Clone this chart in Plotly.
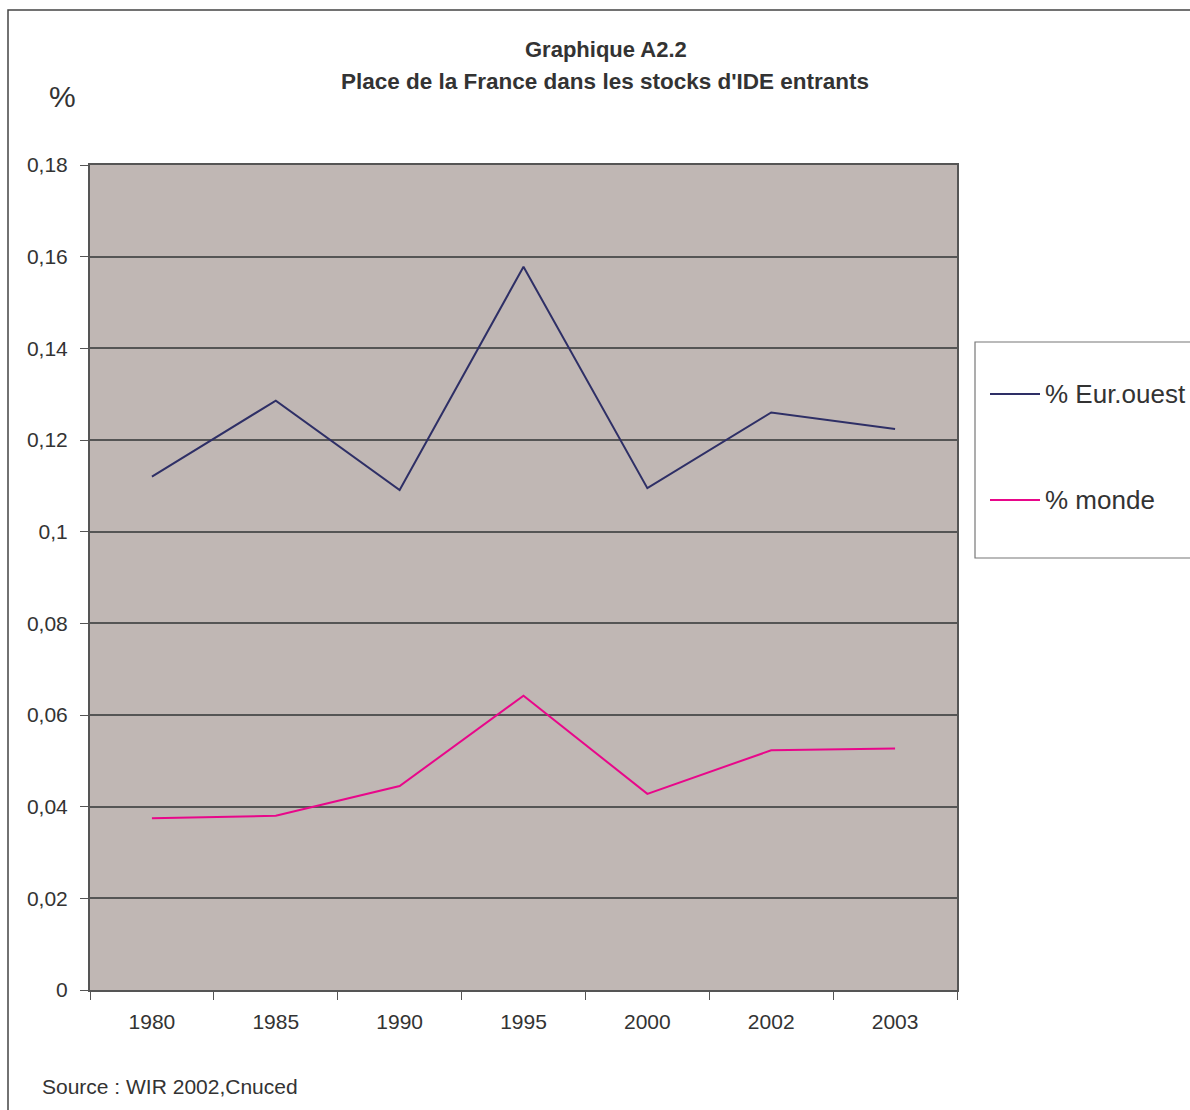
import plotly.graph_objects as go

# Data
annees = ["1980", "1985", "1990", "1995", "2000", "2002", "2003"]
eur_ouest = [0.1120, 0.1286, 0.1091, 0.1578, 0.1095, 0.1260, 0.1224]
monde = [0.0375, 0.0380, 0.0445, 0.0642, 0.0428, 0.0523, 0.0527]
y_ticks = [0, 0.02, 0.04, 0.06, 0.08, 0.10, 0.12, 0.14, 0.16, 0.18]
y_tick_labels = ["0", "0,02", "0,04", "0,06", "0,08", "0,1", "0,12", "0,14", "0,16", "0,18"]

series = [
    ("% Eur.ouest", eur_ouest, "#2e2f66"),
    ("% monde", monde, "#e8078a"),
]

FONT = "Liberation Sans, Arial, sans-serif"
TXT = "#333333"

W, H = 1190, 1110
L, R, T, B = 90, 957, 165, 990  # plot area in pixels


def px(x):
    return (x - L) / (R - L)


def py(y):
    return (B - y) / (B - T)


fig = go.Figure()
for name, vals, color in series:
    fig.add_trace(go.Scatter(x=annees, y=vals, mode="lines", name=name,
                             line=dict(color=color, width=2), showlegend=False))

shapes = [
    # outer frame of the chart
    dict(type="rect", xref="paper", yref="paper", x0=px(8), x1=px(1200), y0=py(1120), y1=py(10),
         line=dict(color="#444444", width=1.5), fillcolor="rgba(0,0,0,0)", layer="below"),
    # legend box
    dict(type="rect", xref="paper", yref="paper", x0=px(975), x1=px(1200), y0=py(558), y1=py(342),
         line=dict(color="#777777", width=1.2), fillcolor="rgba(0,0,0,0)"),
]

annotations = [
    dict(text="<b>Graphique A2.2</b>", xref="paper", yref="paper", x=px(606), y=py(50),
         showarrow=False, font=dict(family=FONT, size=22, color=TXT), xanchor="center", yanchor="middle"),
    dict(text="<b>Place de la France dans les stocks d'IDE entrants</b>", xref="paper", yref="paper",
         x=px(605), y=py(81), showarrow=False, font=dict(family=FONT, size=22.5, color=TXT),
         xanchor="center", yanchor="middle"),
    dict(text="%", xref="paper", yref="paper", x=px(62), y=py(97), showarrow=False,
         font=dict(family=FONT, size=30, color=TXT), xanchor="center", yanchor="middle"),
    dict(text="Source : WIR 2002,Cnuced", xref="paper", yref="paper", x=px(40), y=py(1086),
         showarrow=False, font=dict(family=FONT, size=21, color=TXT), xanchor="left", yanchor="middle"),
]

# legend entries: sample line + label
for i, (name, _, color) in enumerate(series):
    ly = 394 + i * 106
    shapes.append(dict(type="line", xref="paper", yref="paper", x0=px(990), x1=px(1040),
                       y0=py(ly), y1=py(ly), line=dict(color=color, width=2)))
    annotations.append(dict(text=name, xref="paper", yref="paper", x=px(1043), y=py(ly),
                            showarrow=False, font=dict(family=FONT, size=26, color=TXT),
                            xanchor="left", yanchor="middle"))

fig.update_layout(
    width=W, height=H,
    margin=dict(l=L, r=W - R, t=T, b=H - B, pad=0),
    paper_bgcolor="white",
    plot_bgcolor="#c0b7b4",
    font=dict(family=FONT, size=21, color=TXT),
    showlegend=False,
    shapes=shapes,
    annotations=annotations,
)

fig.update_xaxes(
    type="category", range=[-0.5, 6.5], tickson="boundaries", ticks="outside", ticklen=8,
    tickcolor="#555555", showline=True, linecolor="#555555", linewidth=2, mirror=True,
    showgrid=False, ticklabelstandoff=12, tickfont=dict(size=21, color=TXT),
)
fig.update_yaxes(
    range=[0, 0.18], tickvals=y_ticks, ticktext=y_tick_labels, ticks="outside", ticklen=8,
    tickcolor="#555555", showline=True, linecolor="#555555", linewidth=2, mirror=True,
    showgrid=True, gridcolor="#555555", gridwidth=1.5, zeroline=False,
    ticklabelstandoff=8, tickfont=dict(size=21, color=TXT),
)

fig.write_html("out.html")
